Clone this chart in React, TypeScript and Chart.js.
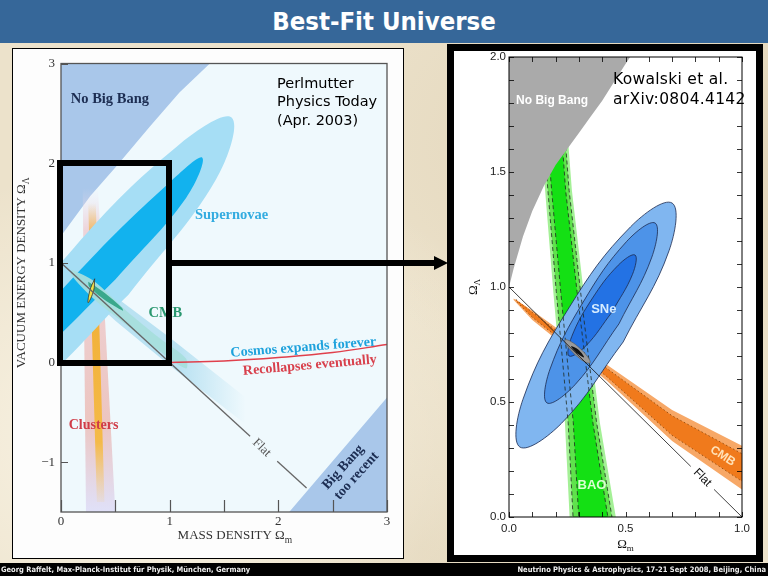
import React, { useEffect, useRef } from 'react';
import { Chart, registerables } from 'chart.js';

Chart.register(...registerables);

type P = [number, number];

const SERIF = "'Liberation Serif', 'Times New Roman', serif";
const SANS = "'Liberation Sans', Arial, sans-serif";
const DJ = "'DejaVu Sans', Verdana, sans-serif";

// ================= Left panel (Perlmutter, Physics Today 2003) =================
const L_X_TICKS = [0, 0.5, 1, 1.5, 2, 2.5, 3];
const L_X_LABELED = [0, 1, 2, 3];
const L_Y_TICKS = [-1, 0, 1, 2, 3];

const L_NO_BIG_BANG: P[] = [[-0.05, 1.2], [0, 1.27], [0.27, 1.67], [0.51, 1.97], [0.82, 2.37], [1.09, 2.71], [1.37, 3.0], [1.41, 3.05], [-0.05, 3.05], [-0.05, 1.2]];
const L_TOO_RECENT: P[] = [[2.1, -1.5], [3.0, -0.35], [3.05, -0.35], [3.05, -1.55], [2.06, -1.55], [2.1, -1.5]];
const L_CLUSTER_OUTER: P[] = [[0.2, 1.75], [0.34, 1.75], [0.5, -1.5], [0.23, -1.5], [0.2, 1.75]];
const L_CLUSTER_INNER: P[] = [[0.25, 1.6], [0.32, 1.6], [0.4, -1.4], [0.33, -1.4], [0.25, 1.6]];
const L_CMB_BAND: P[] = [[0.02, 1.02], [0.5, 0.66], [1.0, 0.25], [1.7, -0.35], [1.7, -0.62], [1.0, -0.03], [0.5, 0.42], [0.1, 0.82], [0.02, 1.02]];
const L_SN_OUTER: P[] = [[0.621, 0.679], [-0.329, -0.339], [-0.868, -0.622], [-0.681, -0.002], [0.124, 1.157], [1.075, 2.175], [1.57, 2.457], [1.426, 1.836], [0.621, 0.679]];
const L_SN_INNER: P[] = [[0.5, 0.832], [-0.214, 0.078], [-0.573, -0.17], [-0.365, 0.235], [0.286, 1.053], [1.0, 1.807], [1.3, 2.055], [1.151, 1.651], [0.5, 0.832]];
const L_CMB_TEAL: P[] = [[0.1, 0.93], [0.3, 0.82], [0.6, 0.52], [0.9, 0.25], [1.15, 0.04], [1.15, -0.06], [0.9, 0.12], [0.6, 0.38], [0.3, 0.64], [0.1, 0.87], [0.1, 0.93]];
const L_CMB_CORE: P[] = [[0.25, 0.81], [0.4, 0.7], [0.56, 0.55], [0.57, 0.52], [0.4, 0.63], [0.26, 0.76], [0.25, 0.81]];
const L_YELLOW: P[] = [[0.31, 0.84], [0.3, 0.72], [0.25, 0.6], [0.265, 0.72], [0.31, 0.84]];
const L_FLAT_A: P[] = [[0, 1], [1.74, -0.74]];
const L_FLAT_B: P[] = [[1.99, -0.99], [2.26, -1.26]];
const L_RECOLLAPSE: P[] = [[1, 0], [1.5, 0.015], [2, 0.05], [2.5, 0.1], [3, 0.18]];

// ================= Right panel (Kowalski et al. 2008) =================
const R_X_TICKS = [0, 0.1, 0.2, 0.3, 0.4, 0.5, 0.6, 0.7, 0.8, 0.9, 1.0];
const R_X_LABELED = [0, 0.5, 1.0];
const R_Y_TICKS = [0, 0.1, 0.2, 0.3, 0.4, 0.5, 0.6, 0.7, 0.8, 0.9, 1.0, 1.1, 1.2, 1.3, 1.4, 1.5, 1.6, 1.7, 1.8, 1.9, 2.0];
const R_Y_LABELED = [0, 0.5, 1.0, 1.5, 2.0];

const R_NO_BIG_BANG: P[] = [[0, 1.0], [0.02, 1.08], [0.06, 1.22], [0.1, 1.33], [0.15, 1.44], [0.2, 1.53], [0.25, 1.6], [0.3, 1.67], [0.35, 1.74], [0.4, 1.81], [0.45, 1.89], [0.5, 1.97], [0.52, 2.0], [0.54, 2.05], [-0.05, 2.05], [-0.05, 1.0], [0, 1.0]];
const R_BAO_OUTER: P[] = [[0.13, 1.75], [0.155, 1.42], [0.19, 0.98], [0.24, 0.41], [0.265, -0.1], [0.475, -0.1], [0.39, 0.41], [0.32, 0.98], [0.27, 1.42], [0.245, 1.75], [0.13, 1.75]];
const R_BAO_MID: P[] = [[0.142, 1.75], [0.167, 1.42], [0.203, 0.98], [0.254, 0.41], [0.28, -0.1], [0.458, -0.1], [0.376, 0.41], [0.307, 0.98], [0.258, 1.42], [0.233, 1.75], [0.142, 1.75]];
const R_BAO_INNER: P[] = [[0.158, 1.75], [0.183, 1.42], [0.222, 0.98], [0.276, 0.41], [0.305, -0.1], [0.44, -0.1], [0.36, 0.41], [0.292, 0.98], [0.243, 1.42], [0.22, 1.75], [0.158, 1.75]];
const R_CMB_OUTER: P[] = [[0.02, 0.95], [0.1, 0.898], [0.2, 0.825], [0.42, 0.662], [0.7, 0.465], [1.0, 0.31], [1.05, 0.285], [1.05, 0.085], [1.0, 0.12], [0.7, 0.33], [0.42, 0.592], [0.2, 0.775], [0.1, 0.857], [0.02, 0.943], [0.02, 0.95]];
const R_CMB_INNER: P[] = [[0.03, 0.945], [0.1, 0.89], [0.2, 0.813], [0.42, 0.646], [0.7, 0.44], [1.0, 0.275], [1.05, 0.25], [1.05, 0.125], [1.0, 0.155], [0.7, 0.355], [0.42, 0.61], [0.2, 0.788], [0.1, 0.868], [0.03, 0.94], [0.03, 0.945]];
const R_SN_OUTER: P[] = [[0.49, 0.761], [0.225, 0.407], [0.047, 0.304], [0.06, 0.512], [0.257, 0.909], [0.522, 1.262], [0.7, 1.365], [0.687, 1.158], [0.49, 0.761]];
const R_SN_MID: P[] = [[0.472, 0.84], [0.285, 0.577], [0.163, 0.496], [0.176, 0.643], [0.318, 0.934], [0.504, 1.197], [0.627, 1.278], [0.613, 1.13], [0.472, 0.84]];
const R_SN_INNER: P[] = [[0.442, 0.891], [0.33, 0.744], [0.258, 0.7], [0.269, 0.784], [0.356, 0.948], [0.469, 1.095], [0.541, 1.139], [0.53, 1.055], [0.442, 0.891]];
const R_COMBINED: P[] = [[0.282, 0.707], [0.248, 0.746], [0.24, 0.77], [0.264, 0.764], [0.306, 0.732], [0.34, 0.693], [0.348, 0.67], [0.324, 0.675], [0.282, 0.707]];
const R_COMBINED_CORE: P[] = [[0.29, 0.712], [0.266, 0.742], [0.297, 0.728], [0.322, 0.694], [0.29, 0.712]];
const R_FLAT_A: P[] = [[0, 1], [0.78, 0.22]];
const R_FLAT_B: P[] = [[0.88, 0.12], [1, 0]];

type Lbl = { text: string; x: number; y: number; color: string; font: string; rot?: number };

const L_LABELS: Lbl[] = [
  { text: 'No Big Bang', x: 0.45, y: 2.64, color: '#1c2d52', font: `bold 14.5px ${SERIF}` },
  { text: 'Supernovae', x: 1.57, y: 1.48, color: '#34ace0', font: `bold 14.5px ${SERIF}` },
  { text: 'CMB', x: 0.96, y: 0.49, color: '#2a9870', font: `bold 14.5px ${SERIF}` },
  { text: 'Cosmos expands forever', x: 2.23, y: 0.15, color: '#1ea2dc', font: `bold 14px ${SERIF}`, rot: -4.5 },
  { text: 'Recollapses eventually', x: 2.29, y: -0.03, color: '#d8404c', font: `bold 14px ${SERIF}`, rot: -5 },
  { text: 'Clusters', x: 0.3, y: -0.63, color: '#d03c48', font: `bold 14px ${SERIF}` },
  { text: 'Flat', x: 1.846, y: -0.856, color: '#555', font: `13px ${SERIF}`, rot: 44 },
  { text: 'Big Bang', x: 2.597, y: -1.05, color: '#1c2d52', font: `bold 14px ${SERIF}`, rot: -48 },
  { text: 'too recent', x: 2.72, y: -1.137, color: '#1c2d52', font: `bold 14px ${SERIF}`, rot: -48 },
];

const R_LABELS: Lbl[] = [
  { text: 'No Big Bang', x: 0.185, y: 1.81, color: '#ffffff', font: `bold 12px ${SANS}` },
  { text: 'SNe', x: 0.407, y: 0.904, color: '#d6ecff', font: `bold 13px ${SANS}` },
  { text: 'BAO', x: 0.356, y: 0.139, color: '#d8ffd0', font: `bold 13px ${SANS}` },
  { text: 'CMB', x: 0.917, y: 0.265, color: '#ffe2b8', font: `bold 12px ${SANS}`, rot: 33 },
  { text: 'Flat', x: 0.83, y: 0.171, color: '#111', font: `12px ${SANS}`, rot: 45 },
];

const toXY = (pts: P[]) => pts.map(([x, y]) => ({ x, y }));

const shape = (label: string, pts: P[], bg: any, extra: any = {}) => ({
  label, data: toXY(pts), fill: 'shape', backgroundColor: bg,
  borderColor: 'rgba(0,0,0,0)', borderWidth: 1, pointRadius: 0, tension: 0, ...extra,
});
const line = (label: string, pts: P[], color: string, width: number, extra: any = {}) => ({
  label, data: toXY(pts), fill: false, borderColor: color, borderWidth: width,
  pointRadius: 0, tension: 0, ...extra,
});
const ordered = (ds: any[]) => ds.map((d, i) => ({ ...d, order: ds.length - i }));

const grad = (dir: 'v' | 'h', from: number, to: number, stops: [number, string][], fallback: string) => (c: any) => {
  const ch = c.chart;
  if (!ch || !ch.chartArea) return fallback;
  const s = dir === 'v' ? ch.scales.y : ch.scales.x;
  const p0 = s.getPixelForValue(from);
  const p1 = s.getPixelForValue(to);
  const g = dir === 'v' ? ch.ctx.createLinearGradient(0, p0, 0, p1) : ch.ctx.createLinearGradient(p0, 0, p1, 0);
  stops.forEach(([o, col]) => g.addColorStop(o, col));
  return g;
};

type Seg = { t: string; font: string; dy: number };
function drawRich(ctx: CanvasRenderingContext2D, x: number, y: number, rot: number, segs: Seg[], color: string) {
  ctx.save();
  ctx.translate(x, y);
  ctx.rotate((rot * Math.PI) / 180);
  ctx.fillStyle = color;
  ctx.textBaseline = 'middle';
  ctx.textAlign = 'left';
  let total = 0;
  for (const s of segs) { ctx.font = s.font; total += ctx.measureText(s.t).width; }
  let cx = -total / 2;
  for (const s of segs) { ctx.font = s.font; ctx.fillText(s.t, cx, s.dy); cx += ctx.measureText(s.t).width; }
  ctx.restore();
}

type Decor = {
  bg: string; frame: string; frameWidth: number; tickColor: string; tickWidth: number;
  ticks: { bottom: number; top: number; left: number; right: number };
  labels: Lbl[];
  titles: (chart: any) => { x: number; y: number; rot: number; segs: Seg[]; color: string }[];
};

const decorPlugin = (id: string, d: Decor) => ({
  id,
  beforeDatasetsDraw(chart: any) {
    const { ctx, chartArea: a } = chart;
    ctx.save();
    ctx.fillStyle = d.bg;
    ctx.fillRect(a.left, a.top, a.right - a.left, a.bottom - a.top);
    ctx.restore();
  },
  afterDatasetsDraw(chart: any) {
    const { ctx, chartArea: a, scales } = chart;
    const xs = scales.x, ys = scales.y;
    ctx.save();
    for (const l of d.labels) {
      ctx.save();
      ctx.translate(xs.getPixelForValue(l.x), ys.getPixelForValue(l.y));
      ctx.rotate(((l.rot || 0) * Math.PI) / 180);
      ctx.font = l.font;
      ctx.fillStyle = l.color;
      ctx.textAlign = 'center';
      ctx.textBaseline = 'middle';
      ctx.fillText(l.text, 0, 0);
      ctx.restore();
    }
    ctx.strokeStyle = d.tickColor;
    ctx.lineWidth = d.tickWidth;
    ctx.beginPath();
    for (const t of xs.ticks) {
      const px = Math.round(xs.getPixelForValue(t.value)) + 0.5;
      if (d.ticks.bottom) { ctx.moveTo(px, a.bottom); ctx.lineTo(px, a.bottom - d.ticks.bottom); }
      if (d.ticks.top) { ctx.moveTo(px, a.top); ctx.lineTo(px, a.top + d.ticks.top); }
    }
    for (const t of ys.ticks) {
      const py = Math.round(ys.getPixelForValue(t.value)) + 0.5;
      if (d.ticks.left) { ctx.moveTo(a.left, py); ctx.lineTo(a.left + d.ticks.left, py); }
      if (d.ticks.right) { ctx.moveTo(a.right, py); ctx.lineTo(a.right - d.ticks.right, py); }
    }
    ctx.stroke();
    ctx.strokeStyle = d.frame;
    ctx.lineWidth = d.frameWidth;
    ctx.strokeRect(a.left, a.top, a.right - a.left, a.bottom - a.top);
    for (const t of d.titles(chart)) drawRich(ctx, t.x, t.y, t.rot, t.segs, t.color);
    ctx.restore();
  },
});

const baseOptions = (o: {
  xMin: number; xMax: number; yMin: number; yMax: number; xTicks: number[]; yTicks: number[];
  xLabel: (v: number) => string; yLabel: (v: number) => string; xH: number; yW: number;
  padTop: number; padRight: number; tickFont: any; tickColor: string; xPad: number; yPad: number;
}) => ({
  animation: false,
  responsive: false,
  maintainAspectRatio: false,
  events: [],
  layout: { padding: { top: o.padTop, right: o.padRight, left: 0, bottom: 0 } },
  plugins: { legend: { display: false }, tooltip: { enabled: false }, title: { display: false } },
  elements: { line: { capBezierPoints: false }, point: { radius: 0 } },
  scales: {
    x: {
      type: 'linear', min: o.xMin, max: o.xMax,
      afterBuildTicks: (s: any) => { s.ticks = o.xTicks.map((v) => ({ value: v })); },
      afterFit: (s: any) => { s.height = o.xH; s.paddingLeft = 0; s.paddingRight = 0; },
      grid: { display: false, drawTicks: false },
      border: { display: false },
      ticks: { callback: (v: any) => o.xLabel(Number(v)), font: o.tickFont, color: o.tickColor, padding: o.xPad, maxRotation: 0, minRotation: 0, autoSkip: false },
    },
    y: {
      type: 'linear', min: o.yMin, max: o.yMax,
      afterBuildTicks: (s: any) => { s.ticks = o.yTicks.map((v) => ({ value: v })); },
      afterFit: (s: any) => { s.width = o.yW; s.paddingTop = 0; s.paddingBottom = 0; },
      grid: { display: false, drawTicks: false },
      border: { display: false },
      ticks: { callback: (v: any) => o.yLabel(Number(v)), font: o.tickFont, color: o.tickColor, padding: o.yPad, autoSkip: false },
    },
  },
});

function leftConfig(): any {
  const datasets = ordered([
    shape('No Big Bang', L_NO_BIG_BANG, '#a9c7ea'),
    shape('Big Bang too recent', L_TOO_RECENT, '#a9c7ea'),
    shape('Clusters (outer)', L_CLUSTER_OUTER, grad('v', 1.75, -1.5, [[0, 'rgba(236,222,240,0)'], [0.13, 'rgba(238,205,210,0.85)'], [0.72, 'rgba(236,192,186,0.9)'], [1, 'rgba(222,222,248,0.9)']], '#eec8c0')),
    shape('Clusters', L_CLUSTER_INNER, grad('v', 1.6, -1.4, [[0, 'rgba(242,178,60,0)'], [0.14, 'rgba(240,172,48,1)'], [0.8, 'rgba(244,186,72,1)'], [1, 'rgba(244,205,130,0.15)']], '#f2b23c')),
    shape('CMB band', L_CMB_BAND, grad('h', 1.1, 1.7, [[0, 'rgba(186,226,242,1)'], [1, 'rgba(186,226,242,0)']], '#bae2f2')),
    shape('Supernovae outer', L_SN_OUTER, '#a6def5', { tension: 0.4 }),
    shape('Supernovae inner', L_SN_INNER, '#12b2ee', { tension: 0.4 }),
    shape('CMB teal', L_CMB_TEAL, 'rgba(166,222,220,0.95)', { tension: 0.3 }),
    shape('CMB core', L_CMB_CORE, '#3aa88c', { tension: 0.3 }),
    shape('Combined', L_YELLOW, '#f2e04a', { tension: 0.4, borderColor: '#333', borderWidth: 0.8 }),
    line('Flat', L_FLAT_A, '#666', 1.3),
    line('Flat 2', L_FLAT_B, '#666', 1.3),
    line('Recollapse boundary', L_RECOLLAPSE, '#e0404c', 1.5, { tension: 0.4 }),
  ]);
  const fmt = (v: number) => (v < 0 ? '\u2212' + Math.abs(v) : String(v));
  return {
    type: 'line',
    data: { datasets },
    options: baseOptions({
      xMin: 0, xMax: 3, yMin: -1.5, yMax: 3, xTicks: L_X_TICKS, yTicks: L_Y_TICKS,
      xLabel: (v) => (L_X_LABELED.includes(v) ? fmt(v) : ''), yLabel: (v) => fmt(v),
      xH: 46, yW: 48, padTop: 14.5, padRight: 16,
      tickFont: { family: SERIF, size: 13 }, tickColor: '#333', xPad: 2, yPad: 6,
    }),
    plugins: [decorPlugin('leftDecor', {
      bg: '#eff9fd', frame: '#555', frameWidth: 1.3, tickColor: '#555', tickWidth: 1.2,
      ticks: { bottom: 12, top: 0, left: 7, right: 0 },
      labels: L_LABELS,
      titles: (ch: any) => {
        const a = ch.chartArea;
        return [
          { x: ch.scales.x.getPixelForValue(1.6), y: a.bottom + 24, rot: 0, color: '#333', segs: [{ t: 'MASS DENSITY \u03A9', font: `13px ${SERIF}`, dy: 0 }, { t: 'm', font: `9.5px ${SERIF}`, dy: 4 }] },
          { x: a.left - 39, y: ch.scales.y.getPixelForValue(0.9), rot: -90, color: '#333', segs: [{ t: 'VACUUM ENERGY DENSITY \u03A9', font: `13px ${SERIF}`, dy: 0 }, { t: '\u039B', font: `9.5px ${SERIF}`, dy: 4 }] },
        ];
      },
    })],
  };
}

function rightConfig(): any {
  const sn = { tension: 0.4, borderColor: '#1a2a50', borderWidth: 0.8 };
  const datasets = ordered([
    shape('BAO outer', R_BAO_OUTER, '#a4f096'),
    shape('BAO mid', R_BAO_MID, '#5fe24c'),
    shape('BAO inner', R_BAO_INNER, '#14e014'),
    shape('CMB outer', R_CMB_OUTER, '#f7a867'),
    shape('CMB inner', R_CMB_INNER, '#f07a1c', { borderColor: '#7a3a00', borderWidth: 0.7, borderDash: [1.5, 2.5] }),
    shape('SNe outer', R_SN_OUTER, '#80b6f0', sn),
    shape('SNe mid', R_SN_MID, '#4d93e8', sn),
    shape('SNe inner', R_SN_INNER, '#2372e4', sn),
    line('BAO mid edges', R_BAO_MID, '#1e2a1e', 0.8, { borderDash: [4, 3] }),
    line('BAO inner edges', R_BAO_INNER, '#1e2a1e', 0.8, { borderDash: [4, 3] }),
    shape('Combined', R_COMBINED, '#9a9a9a', { tension: 0.4, borderColor: '#555', borderWidth: 0.6 }),
    shape('Combined core', R_COMBINED_CORE, '#111', { tension: 0.4 }),
    line('Flat', R_FLAT_A, '#111', 0.8),
    line('Flat 2', R_FLAT_B, '#111', 0.8),
    shape('No Big Bang', R_NO_BIG_BANG, '#aaaaaa'),
  ]);
  return {
    type: 'line',
    data: { datasets },
    options: baseOptions({
      xMin: 0, xMax: 1, yMin: 0, yMax: 2, xTicks: R_X_TICKS, yTicks: R_Y_TICKS,
      xLabel: (v) => (R_X_LABELED.includes(v) ? v.toFixed(1) : ''),
      yLabel: (v) => (R_Y_LABELED.includes(v) ? v.toFixed(1) : ''),
      xH: 38, yW: 55, padTop: 6, padRight: 14,
      tickFont: { family: SANS, size: 11.5 }, tickColor: '#222', xPad: 5, yPad: 3,
    }),
    plugins: [decorPlugin('rightDecor', {
      bg: '#ffffff', frame: '#000', frameWidth: 1, tickColor: '#000', tickWidth: 0.8,
      ticks: { bottom: 5, top: 5, left: 5, right: 5 },
      labels: R_LABELS,
      titles: (ch: any) => {
        const a = ch.chartArea;
        return [
          { x: ch.scales.x.getPixelForValue(0.5), y: a.bottom + 28, rot: 0, color: '#111', segs: [{ t: '\u03A9', font: `13px ${SERIF}`, dy: 0 }, { t: 'm', font: `9px ${SERIF}`, dy: 4 }] },
          { x: a.left - 35, y: ch.scales.y.getPixelForValue(1.0), rot: -90, color: '#111', segs: [{ t: '\u03A9', font: `13px ${SERIF}`, dy: 0 }, { t: '\u039B', font: `9px ${SERIF}`, dy: 4 }] },
        ];
      },
    })],
  };
}

export default function App() {
  const leftRef = useRef<HTMLCanvasElement>(null);
  const rightRef = useRef<HTMLCanvasElement>(null);

  useEffect(() => {
    const c1 = new Chart(leftRef.current as HTMLCanvasElement, leftConfig());
    const c2 = new Chart(rightRef.current as HTMLCanvasElement, rightConfig());
    return () => { c1.destroy(); c2.destroy(); };
  }, []);

  const abs = (l: number, t: number, w: number, h: number): React.CSSProperties => ({ position: 'absolute', left: l, top: t, width: w, height: h });
  const footFont: React.CSSProperties = { fontFamily: "'Liberation Sans Narrow', 'DejaVu Sans Condensed', sans-serif", fontStretch: 'condensed', fontWeight: 'bold', fontSize: 7.5, whiteSpace: 'nowrap', color: '#eee', height: 13, lineHeight: '13px', top: 563, position: 'absolute' };

  return (
    <div style={{
      position: 'fixed', left: 0, top: 0, width: 768, height: 576, overflow: 'hidden',
      background: 'radial-gradient(ellipse at 22% 75%, rgba(255,251,240,0.75), rgba(255,251,240,0) 45%), radial-gradient(ellipse at 88% 25%, rgba(210,192,158,0.45), rgba(210,192,158,0) 40%), radial-gradient(ellipse at 55% 95%, rgba(215,198,165,0.4), rgba(215,198,165,0) 35%), #ece2cb',
    }}>
      <div style={{ ...abs(0, 0, 768, 43), background: '#366799', color: '#fff', textAlign: 'center', lineHeight: '42px', fontFamily: "'DejaVu Sans Condensed', 'DejaVu Sans', sans-serif", fontStretch: 'condensed', fontWeight: 'bold', fontSize: 25.5 }}>
        Best-Fit Universe
      </div>

      <div style={{ ...abs(12, 48, 392, 511), boxSizing: 'border-box', border: '1px solid #000', background: '#fdfdfd' }} />
      <canvas ref={leftRef} width={390} height={509} style={{ ...abs(13, 49, 390, 509) }} />
      <div style={{ position: 'absolute', left: 277, top: 73.5, fontFamily: DJ, fontSize: 14.5, lineHeight: '18.5px', color: '#000', whiteSpace: 'pre' }}>
        {'Perlmutter\nPhysics Today\n(Apr. 2003)'}
      </div>

      <div style={{ ...abs(447, 44, 316, 518), boxSizing: 'border-box', border: '7px solid #000', background: '#fff' }} />
      <canvas ref={rightRef} width={302} height={504} style={{ ...abs(454, 51, 302, 504) }} />
      <div style={{ position: 'absolute', left: 613, top: 69, fontFamily: DJ, fontSize: 15.5, lineHeight: '20px', letterSpacing: '0.3px', color: '#000', whiteSpace: 'pre' }}>
        {'Kowalski et al.\narXiv:0804.4142'}
      </div>

      <svg width={768} height={576} style={{ position: 'absolute', left: 0, top: 0, pointerEvents: 'none' }}>
        <rect x={60} y={163} width={109} height={200} fill="none" stroke="#000" strokeWidth={6} />
        <line x1={172} y1={263} x2={436} y2={263} stroke="#000" strokeWidth={6} />
        <polygon points="434,256 448,263 434,270" fill="#000" />
      </svg>

      <div style={{ ...abs(0, 563, 768, 13), background: '#000' }} />
      <div style={{ ...footFont, left: 1 }}>
        Georg Raffelt, Max-Planck-Institut für Physik, München, Germany
      </div>
      <div style={{ ...footFont, right: 2, textAlign: 'right' }}>
        Neutrino Physics &amp; Astrophysics, 17-21 Sept 2008, Beijing, China
      </div>
    </div>
  );
}
